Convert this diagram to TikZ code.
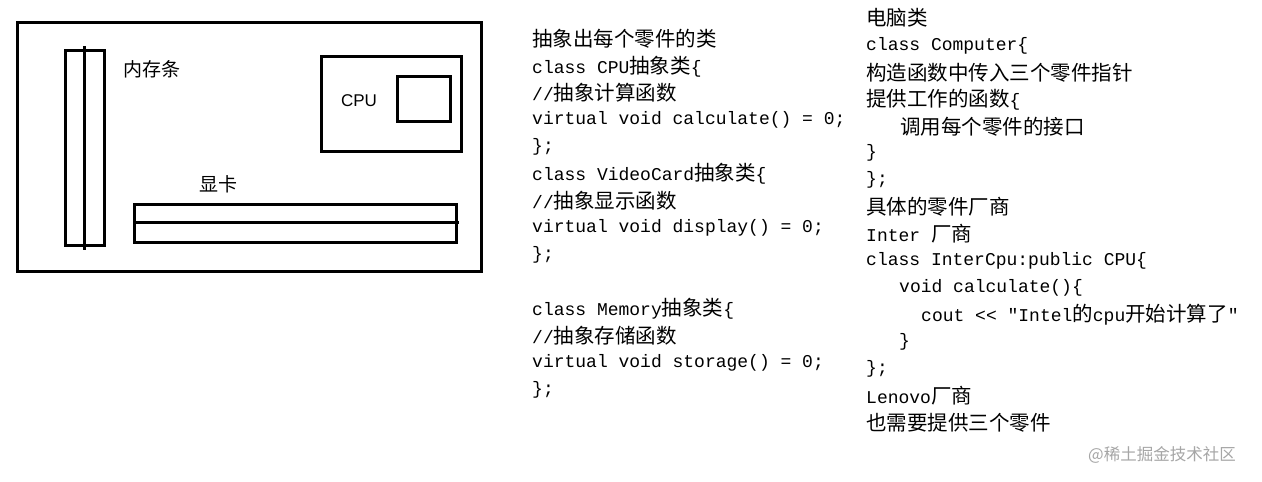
\documentclass[tikz,border=0pt]{standalone}
\usepackage{fontspec}
\setmonofont{Liberation Mono}
\newfontfamily\cjk{Noto Sans CJK SC}
\newfontfamily\lsans{Liberation Sans}
\newcommand\C[1]{{\cjk\fontsize{20.5}{20}\selectfont #1}}
\begin{document}
\begin{tikzpicture}[x=1pt,y=-1pt,
  part/.style={draw,line width=3pt},
  code/.style={anchor=west,inner sep=0pt,font=\ttfamily\fontsize{18}{20}\selectfont},
  lbl/.style={inner sep=0pt,font=\cjk\fontsize{19}{20}\selectfont}]
\useasboundingbox (0,0) rectangle (1262,482);
\fill[white] (0,0) rectangle (1262,482);
% computer board
\draw[part] (17,22) rectangle (481,271);
\draw[part] (65,50) rectangle (104,245);
\draw[part] (84,46) -- (84,250);
\draw[part] (321,56) rectangle (461,151);
\draw[part] (397,76) rectangle (450,121);
\draw[part] (134,204) rectangle (456,242);
\draw[part] (134,222) -- (459,222);
\node[lbl] (mem) at (152,69) {内存条};
\node[inner sep=0pt,font=\lsans\fontsize{17}{20}\selectfont] (cpu) at (359,101) {CPU};
\node[lbl] (gpu) at (218,184) {显卡};
% middle column
\node[code] (m1) at (532,39) {\C{抽象出每个零件的类}};
\node[code] (m2) at (532,67) {class CPU\C{抽象类}\{};
\node[code] (m3) at (532,93) {//\C{抽象计算函数}};
\node[code] (m4) at (532,120) {virtual void calculate() = 0;};
\node[code] (m5) at (532,147) {\};};
\node[code] (m6) at (532,174) {class VideoCard\C{抽象类}\{};
\node[code] (m7) at (532,201) {//\C{抽象显示函数}};
\node[code] (m8) at (532,228) {virtual void display() = 0;};
\node[code] (m9) at (532,255) {\};};
\node[code] (m10) at (532,309) {class Memory\C{抽象类}\{};
\node[code] (m11) at (532,336) {//\C{抽象存储函数}};
\node[code] (m12) at (532,363) {virtual void storage() = 0;};
\node[code] (m13) at (532,390) {\};};
% right column
\node[code] (r1) at (866,18) {\C{电脑类}};
\node[code] (r2) at (866,46) {class Computer\{};
\node[code] (r3) at (866,73) {\C{构造函数中传入三个零件指针}};
\node[code] (r4) at (866,100) {\C{提供工作的函数}\{};
\node[code] (r5) at (900,127) {\C{调用每个零件的接口}};
\node[code] (r6) at (866,153) {\}};
\node[code] (r7) at (866,180) {\};};
\node[code] (r8) at (866,207) {\C{具体的零件厂商}};
\node[code] (r9) at (866,234) {Inter \C{厂商}};
\node[code] (r10) at (866,261) {class InterCpu:public CPU\{};
\node[code] (r11) at (899,288) {void calculate()\{};
\node[code] (r12) at (921,315) {cout << "Intel\C{的}cpu\C{开始计算了}"};
\node[code] (r13) at (899,342) {\}};
\node[code] (r14) at (866,369) {\};};
\node[code] (r15) at (866,396) {Lenovo\C{厂商}};
\node[code] (r16) at (866,423) {\C{也需要提供三个零件}};
\node[anchor=west,inner sep=0pt,text=black!35,font=\cjk\fontsize{16.5}{17}\selectfont] (wm) at (1088,455) {@稀土掘金技术社区};
\end{tikzpicture}
\end{document}
